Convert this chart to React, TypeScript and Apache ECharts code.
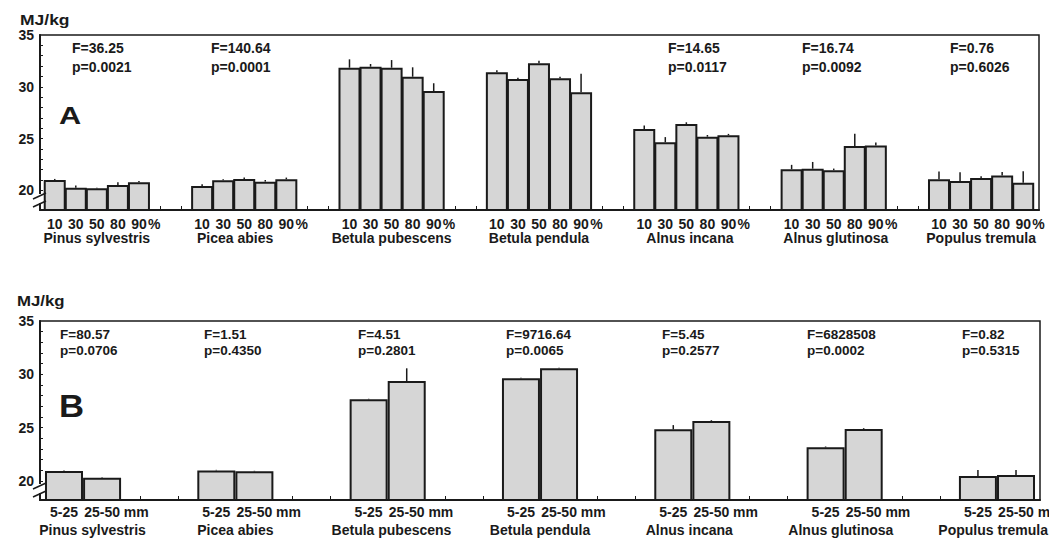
import React, { useEffect, useRef } from 'react';
import * as echarts from 'echarts';

// ---------- data ----------
const species = [
  'Pinus sylvestris',
  'Picea abies',
  'Betula pubescens',
  'Betula pendula',
  'Alnus incana',
  'Alnus glutinosa',
  'Populus tremula',
];
const percentLabels = ['10', '30', '50', '80', '90'];
const percentUnit = '%';
const sizeLabels = ['5-25', '25-50'];
const sizeUnit = 'mm';
const yLabelValues = [20, 25, 30, 35];

// Panel A: heating value by bark percentage (MJ/kg)
const aMeans = [
  [21.0, 20.26, 20.2, 20.52, 20.78],
  [20.42, 20.97, 21.1, 20.84, 21.07],
  [31.84, 31.94, 31.84, 30.97, 29.59],
  [31.4, 30.75, 32.27, 30.82, 29.47],
  [25.93, 24.64, 26.41, 25.18, 25.32],
  [22.04, 22.09, 21.94, 24.29, 24.32],
  [21.07, 20.91, 21.2, 21.42, 20.74],
];
const aErrors = [
  [0.1, 0.2, 0.05, 0.25, 0.13],
  [0.16, 0.1, 0.13, 0.16, 0.16],
  [0.81, 0.26, 0.74, 0.91, 0.75],
  [0.2, 0.12, 0.25, 0.16, 1.78],
  [0.32, 0.5, 0.16, 0.16, 0.13],
  [0.42, 0.65, 0.16, 1.17, 0.29],
  [0.74, 0.84, 0.16, 0.36, 1.1],
];
const aStats = [
  ['F=36.25', 'p=0.0021'],
  ['F=140.64', 'p=0.0001'],
  null,
  null,
  ['F=14.65', 'p=0.0117'],
  ['F=16.74', 'p=0.0092'],
  ['F=0.76', 'p=0.6026'],
];

// Panel B: heating value by diameter class (MJ/kg)
const bMeans = [
  [20.92, 20.29],
  [20.98, 20.89],
  [27.65, 29.37],
  [29.62, 30.56],
  [24.83, 25.61],
  [23.14, 24.86],
  [20.45, 20.54],
];
const bErrors = [
  [0.05, 0.05],
  [0.05, 0.05],
  [0.05, 1.19],
  [0.05, 0.05],
  [0.4, 0.08],
  [0.08, 0.08],
  [0.56, 0.47],
];
const bStats = [
  ['F=80.57', 'p=0.0706'],
  ['F=1.51', 'p=0.4350'],
  ['F=4.51', 'p=0.2801'],
  ['F=9716.64', 'p=0.0065'],
  ['F=5.45', 'p=0.2577'],
  ['F=6828508', 'p=0.0002'],
  ['F=0.82', 'p=0.5315'],
];

// ---------- layout (not data) ----------
const A_SLOTS = 7; // 5 bars + 2 empty slots per group
const B_SLOTS = 4; // 2 bars + 2 empty slots per group
const A_UNIT_SHIFT = 0.43; // left edge of '%' relative to the last bar (in slots)
const B_UNIT_SHIFT = 0.57; // left edge of 'mm' relative to the last bar (in slots)
const aSpeciesNudge = [0, -0.43, 0, 0, 0.17, 0.1, 0];
const bSpeciesNudge = [0.25, 0, 0.1, 0, -0.08, -0.1, -0.1];
const aStatX = [72, 211, 0, 0, 668, 802, 950];
const bStatX = [60, 204, 358, 506, 662, 807, 962];
const FONT = '"Liberation Sans", Arial, Helvetica, sans-serif';
const INK = '#1a1a1a';

function buildOption() {
  const aBar: number[][] = [];
  const aErr: number[][] = [];
  const aLabelIdx: number[] = [];
  const aGapIdx: number[] = [];
  const aUnitIdx: number[] = [];
  const aSpeciesIdx: number[] = [];
  aMeans.forEach((row, g) => {
    row.forEach((v, k) => {
      const x = g * A_SLOTS + k;
      aBar.push([x, v]);
      aErr.push([x, v, v + aErrors[g][k]]);
      aLabelIdx.push(x);
    });
    aUnitIdx.push(g * A_SLOTS + row.length - 1 + A_UNIT_SHIFT);
    aSpeciesIdx.push(g * A_SLOTS + (row.length - 1) / 2 + aSpeciesNudge[g]);
    if (g < aMeans.length - 1) aGapIdx.push(g * A_SLOTS + 5, g * A_SLOTS + 6);
  });
  const bBar: number[][] = [];
  const bErr: number[][] = [];
  const bLabelIdx: number[] = [];
  const bGapIdx: number[] = [];
  const bUnitIdx: number[] = [];
  const bSpeciesIdx: number[] = [];
  bMeans.forEach((row, g) => {
    row.forEach((v, k) => {
      const x = g * B_SLOTS + k;
      bBar.push([x, v]);
      bErr.push([x, v, v + bErrors[g][k]]);
      bLabelIdx.push(x);
    });
    bUnitIdx.push(g * B_SLOTS + row.length - 1 + B_UNIT_SHIFT);
    bSpeciesIdx.push(g * B_SLOTS + (row.length - 1) / 2 + bSpeciesNudge[g]);
    if (g < bMeans.length - 1) bGapIdx.push(g * B_SLOTS + 2, g * B_SLOTS + 3);
  });
  const aMin = -0.7;
  const aMax = (aMeans.length - 1) * A_SLOTS + 4 + 0.75;
  const bMin = -0.63;
  const bMax = (bMeans.length - 1) * B_SLOTS + 1 + 0.63;

  const labelStyle = {
    color: INK,
    fontFamily: FONT,
    fontWeight: 'bold',
    fontSize: 14,
    lineHeight: 14,
    showMinLabel: true,
    showMaxLabel: true,
    hideOverlap: false,
  };

  const mainX = (gridIndex: number, min: number, max: number, gaps: number[], labels: number[], formatter: any, margin: number) => ({
    type: 'value',
    gridIndex,
    position: 'bottom',
    min,
    max,
    splitLine: { show: false },
    axisLine: { show: true, onZero: false, lineStyle: { color: INK, width: 2 } },
    axisTick: { show: true, inside: true, length: 4, customValues: gaps, lineStyle: { color: INK, width: 1 } },
    axisLabel: { ...labelStyle, customValues: labels, formatter, margin },
  });
  // text-only axis on the same grid (units and species names)
  const textX = (gridIndex: number, min: number, max: number, labels: number[], formatter: any, margin: number, align: string) => ({
    type: 'value',
    gridIndex,
    position: 'bottom',
    offset: 0,
    min,
    max,
    splitLine: { show: false },
    axisLine: { show: false, onZero: false },
    axisTick: { show: false },
    axisLabel: { ...labelStyle, customValues: labels, formatter, margin, align },
  });

  const yAxisBase = (min: number, gridIndex: number) => ({
    type: 'value',
    gridIndex,
    min,
    max: 35,
    splitLine: { show: false },
    axisLine: { show: true, onZero: false, lineStyle: { color: INK, width: 2 } },
    axisTick: {
      show: true,
      inside: true,
      length: 3,
      customValues: [19, 20, 21, 22, 23, 24, 25, 26, 27, 28, 29, 30, 31, 32, 33, 34],
      lineStyle: { color: INK, width: 1 },
    },
    axisLabel: {
      customValues: yLabelValues,
      showMinLabel: true,
      showMaxLabel: true,
      color: INK,
      fontFamily: FONT,
      fontWeight: 'bold',
      fontSize: 14,
      margin: 6,
    },
  });

  const errRender = (params: any, api: any) => {
    const p0 = api.coord([api.value(0), api.value(1)]);
    const p1 = api.coord([api.value(0), api.value(2)]);
    return {
      type: 'line',
      shape: { x1: p0[0], y1: p0[1], x2: p1[0], y2: p1[1] },
      style: { stroke: INK, lineWidth: 1.5 },
    };
  };

  const graphic: any[] = [];
  const txt = (text: string, x: number, y: number, size: number, scaleX = 1) => ({
    type: 'text',
    x,
    y,
    scaleX,
    z: 100,
    style: {
      text,
      fill: INK,
      font: 'bold ' + size + 'px ' + FONT,
      verticalAlign: 'middle',
      align: 'left',
    },
  });
  graphic.push(txt('MJ/kg', 20, 20, 14, 1.25));
  graphic.push(txt('MJ/kg', 17, 301, 14, 1.2));
  graphic.push(txt('A', 59, 116, 24, 1.28));
  graphic.push(txt('B', 59, 406, 31, 1.12));
  aStats.forEach((s, g) => {
    if (!s) return;
    graphic.push(txt(s[0], aStatX[g], 48, 14));
    graphic.push(txt(s[1], aStatX[g], 67, 14));
  });
  bStats.forEach((s, g) => {
    graphic.push(txt(s[0], bStatX[g], 334.5, 13.5));
    graphic.push(txt(s[1], bStatX[g], 350.5, 13.5));
  });
  // axis break marks
  const brk = (y1: number, y2: number) => {
    graphic.push({
      type: 'rect',
      z: 99,
      shape: { x: 37, y: y1 - 2, width: 6, height: y2 - y1 + 1 },
      style: { fill: '#fff' },
    });
    graphic.push({
      type: 'line',
      z: 100,
      shape: { x1: 33, y1: y1 + 3, x2: 46, y2: y1 - 3 },
      style: { stroke: INK, lineWidth: 1.5 },
    });
    graphic.push({
      type: 'line',
      z: 100,
      shape: { x1: 33, y1: y2 + 3, x2: 46, y2: y2 - 3 },
      style: { stroke: INK, lineWidth: 1.5 },
    });
  };
  brk(196, 204);
  brk(486, 494);

  const aNum = (v: number) => percentLabels[Math.round(v) % A_SLOTS] || '';
  const bNum = (v: number) => sizeLabels[Math.round(v) % B_SLOTS] || '';
  const aSp = (v: number) => species[Math.round((v - 2) / A_SLOTS)] || '';
  const bSp = (v: number) => species[Math.round((v - 0.5) / B_SLOTS)] || '';

  return {
    animation: false,
    backgroundColor: '#ffffff',
    textStyle: { fontFamily: FONT },
    grid: [
      { left: 40, top: 35, width: 999, height: 175, show: true, borderColor: INK, borderWidth: 1.5, backgroundColor: 'transparent', containLabel: false, outerBoundsMode: 'none' },
      { left: 40, top: 321, width: 1000, height: 179, show: true, borderColor: INK, borderWidth: 1.5, backgroundColor: 'transparent', containLabel: false, outerBoundsMode: 'none' },
    ],
    xAxis: [
      mainX(0, aMin, aMax, aGapIdx, aLabelIdx, aNum, 7),
      textX(0, aMin, aMax, aUnitIdx, () => percentUnit, 7, 'left'),
      textX(0, aMin, aMax, aSpeciesIdx, aSp, 21, 'center'),
      mainX(1, bMin, bMax, bGapIdx, bLabelIdx, bNum, 4.5),
      textX(1, bMin, bMax, bUnitIdx, () => sizeUnit, 4.5, 'left'),
      textX(1, bMin, bMax, bSpeciesIdx, bSp, 23, 'center'),
    ],
    yAxis: [yAxisBase(18.1, 0), yAxisBase(18.2, 1)],
    graphic,
    series: [
      {
        type: 'bar',
        xAxisIndex: 0,
        yAxisIndex: 0,
        data: aBar,
        barWidth: 22,
        clip: true,
        itemStyle: { color: '#d6d6d6', borderColor: INK, borderWidth: 2 },
      },
      {
        type: 'custom',
        xAxisIndex: 0,
        yAxisIndex: 0,
        data: aErr,
        encode: { x: 0, y: [1, 2] },
        renderItem: errRender,
        z: 5,
      },
      {
        type: 'bar',
        xAxisIndex: 3,
        yAxisIndex: 1,
        data: bBar,
        barWidth: 38,
        clip: true,
        itemStyle: { color: '#d6d6d6', borderColor: INK, borderWidth: 2 },
      },
      {
        type: 'custom',
        xAxisIndex: 3,
        yAxisIndex: 1,
        data: bErr,
        encode: { x: 0, y: [1, 2] },
        renderItem: errRender,
        z: 5,
      },
    ],
  };
}

export default function App() {
  const ref = useRef<HTMLDivElement>(null);
  useEffect(() => {
    document.body.style.margin = '0';
    if (!ref.current) return;
    const chart = echarts.init(ref.current, null, { renderer: 'svg' });
    chart.setOption(buildOption() as any);
    return () => {
      chart.dispose();
    };
  }, []);
  return <div ref={ref} style={{ width: 1049, height: 542 }} />;
}
